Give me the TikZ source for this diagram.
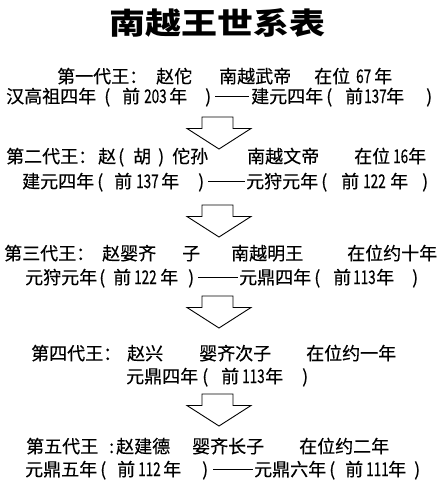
\documentclass[tikz,border=0pt]{standalone}
\usepackage{graphicx}
\usepackage{fontspec}
\setmainfont{Noto Sans CJK SC}
\newfontfamily\heavy{Noto Sans CJK SC}[FakeBold=0.35]
\newcommand\dg[1]{\scalebox{0.75}[1.05]{#1}}
\newcommand\dsh[1]{\rule[6.3pt]{#1}{0.9pt}}
\begin{document}
\begin{tikzpicture}[x=1pt,y=-1pt,
  t/.style={anchor=base west, inner sep=0pt, font=\fontsize{18}{20}\heavy},
  ttl/.style={anchor=center, inner sep=0pt, font=\fontsize{30}{32}\selectfont\bfseries},
  bigarrow/.pic={\draw[line width=0.9pt, line join=miter]
    (-17,0) -- (14,0) -- (14,11.5) -- (32,11.5) -- (0,32) -- (-32,11.5) -- (-17,11.5) -- cycle;}]
\useasboundingbox (0,0) rectangle (442,480);
\fill[white] (0,0) rectangle (442,480);
% title
\node[ttl] (title) at (217.5,23) {\scalebox{1.2}[1]{南越王世系表}};
% line 1
\node[t] (a1) at (57,83) {第一代王：};
\node[t] (a2) at (156,83) {赵佗};
\node[t] (a3) at (219,83) {南越武帝};
\node[t] (a4) at (314,83) {在位};
\node[t] (a5) at (356,83) {\dg{67}};
\node[t] (a6) at (374,83) {年};
% line 2
\node[t] (b1) at (6,103) {汉高祖四年};
\node[t] (b1p) at (104,103) {(};
\node[t] (b2) at (122,103) {前};
\node[t] (b3) at (144,103) {\dg{203}};
\node[t] (b4) at (169,103) {年};
\node[t] (b5) at (205,103) {)};
\node[t] (b6) at (215,103) {\dsh{34pt}};
\node[t] (b7) at (251,103) {建元四年};
\node[t] (b7p) at (326,103) {(};
\node[t] (b8) at (345,103) {前};
\node[t] (b9) at (364,103) {\dg{137}};
\node[t] (b10) at (386,103) {年};
\node[t] (b11) at (426,103) {)};
% arrow 1
\pic (ar1) at (219,117) {bigarrow};
% line 3
\node[t] (c1) at (6,163) {第二代王：};
\node[t] (c2) at (98,163) {赵};
\node[t] (c2p) at (118,163) {(};
\node[t] (c3) at (133,163) {胡};
\node[t] (c4) at (158,163) {)};
\node[t] (c5) at (172,163) {佗孙};
\node[t] (c6) at (247,163) {南越文帝};
\node[t] (c7) at (354,163) {在位};
\node[t] (c8) at (393,163) {\dg{16}};
\node[t] (c9) at (408,163) {年};
% line 4
\node[t] (d1) at (22,188) {建元四年};
\node[t] (d1p) at (97,188) {(};
\node[t] (d2) at (114,188) {前};
\node[t] (d3) at (136,188) {\dg{137}};
\node[t] (d4) at (161,188) {年};
\node[t] (d5) at (198,188) {)};
\node[t] (d6) at (208,188) {\dsh{37pt}};
\node[t] (d7) at (246,188) {元狩元年};
\node[t] (d7p) at (321,188) {(};
\node[t] (d8) at (341,188) {前};
\node[t] (d9) at (363,188) {\dg{122}};
\node[t] (d10) at (390,188) {年};
\node[t] (d11) at (422,188) {)};
% arrow 2
\pic (ar2) at (219,205) {bigarrow};
% line 5
\node[t] (e1) at (4,260) {第三代王：};
\node[t] (e2) at (102,260) {赵婴齐};
\node[t] (e3) at (182,260) {子};
\node[t] (e4) at (231,260) {南越明王};
\node[t] (e5) at (347,260) {在位约十年};
% line 6
\node[t] (f1) at (25,284) {元狩元年};
\node[t] (f1p) at (99,284) {(};
\node[t] (f2) at (113,284) {前};
\node[t] (f3) at (134,284) {\dg{122}};
\node[t] (f4) at (160,284) {年};
\node[t] (f5) at (188,284) {)};
\node[t] (f6) at (198,284) {\dsh{40pt}};
\node[t] (f7) at (239,284) {元鼎四年};
\node[t] (f7p) at (314,284) {(};
\node[t] (f8) at (333,284) {前};
\node[t] (f9) at (353,284) {\dg{113}};
\node[t] (f10) at (376,284) {年};
\node[t] (f11) at (412,284) {)};
% arrow 3
\pic (ar3) at (219,296) {bigarrow};
% line 7
\node[t] (g1) at (31,360) {第四代王：};
\node[t] (g2) at (127,360) {赵兴};
\node[t] (g3) at (199,360) {婴齐次子};
\node[t] (g4) at (306,360) {在位约一年};
% line 8
\node[t] (h1) at (126,383) {元鼎四年};
\node[t] (h1p) at (202,383) {(};
\node[t] (h2) at (221,383) {前};
\node[t] (h3) at (242,383) {\dg{113}};
\node[t] (h4) at (265,383) {年};
\node[t] (h5) at (302,383) {)};
% arrow 4
\pic (ar4) at (219,394) {bigarrow};
% line 9
\node[t] (i1) at (26,453) {第五代王};
\node[t] (i2) at (109,453) {:};
\node[t] (i3) at (116,453) {赵建德};
\node[t] (i4) at (192,453) {婴齐长子};
\node[t] (i5) at (299,453) {在位约二年};
% line 10
\node[t] (j1) at (25,476) {元鼎五年};
\node[t] (j1p) at (100,476) {(};
\node[t] (j2) at (117,476) {前};
\node[t] (j3) at (138,476) {\dg{112}};
\node[t] (j4) at (163,476) {年};
\node[t] (j5) at (202,476) {)};
\node[t] (j6) at (213,476) {\dsh{40pt}};
\node[t] (j7) at (254,476) {元鼎六年};
\node[t] (j7p) at (329,476) {(};
\node[t] (j8) at (345,476) {前};
\node[t] (j9) at (366,476) {\dg{111}};
\node[t] (j10) at (388,476) {年};
\node[t] (j11) at (414,476) {)};
\end{tikzpicture}
\end{document}
